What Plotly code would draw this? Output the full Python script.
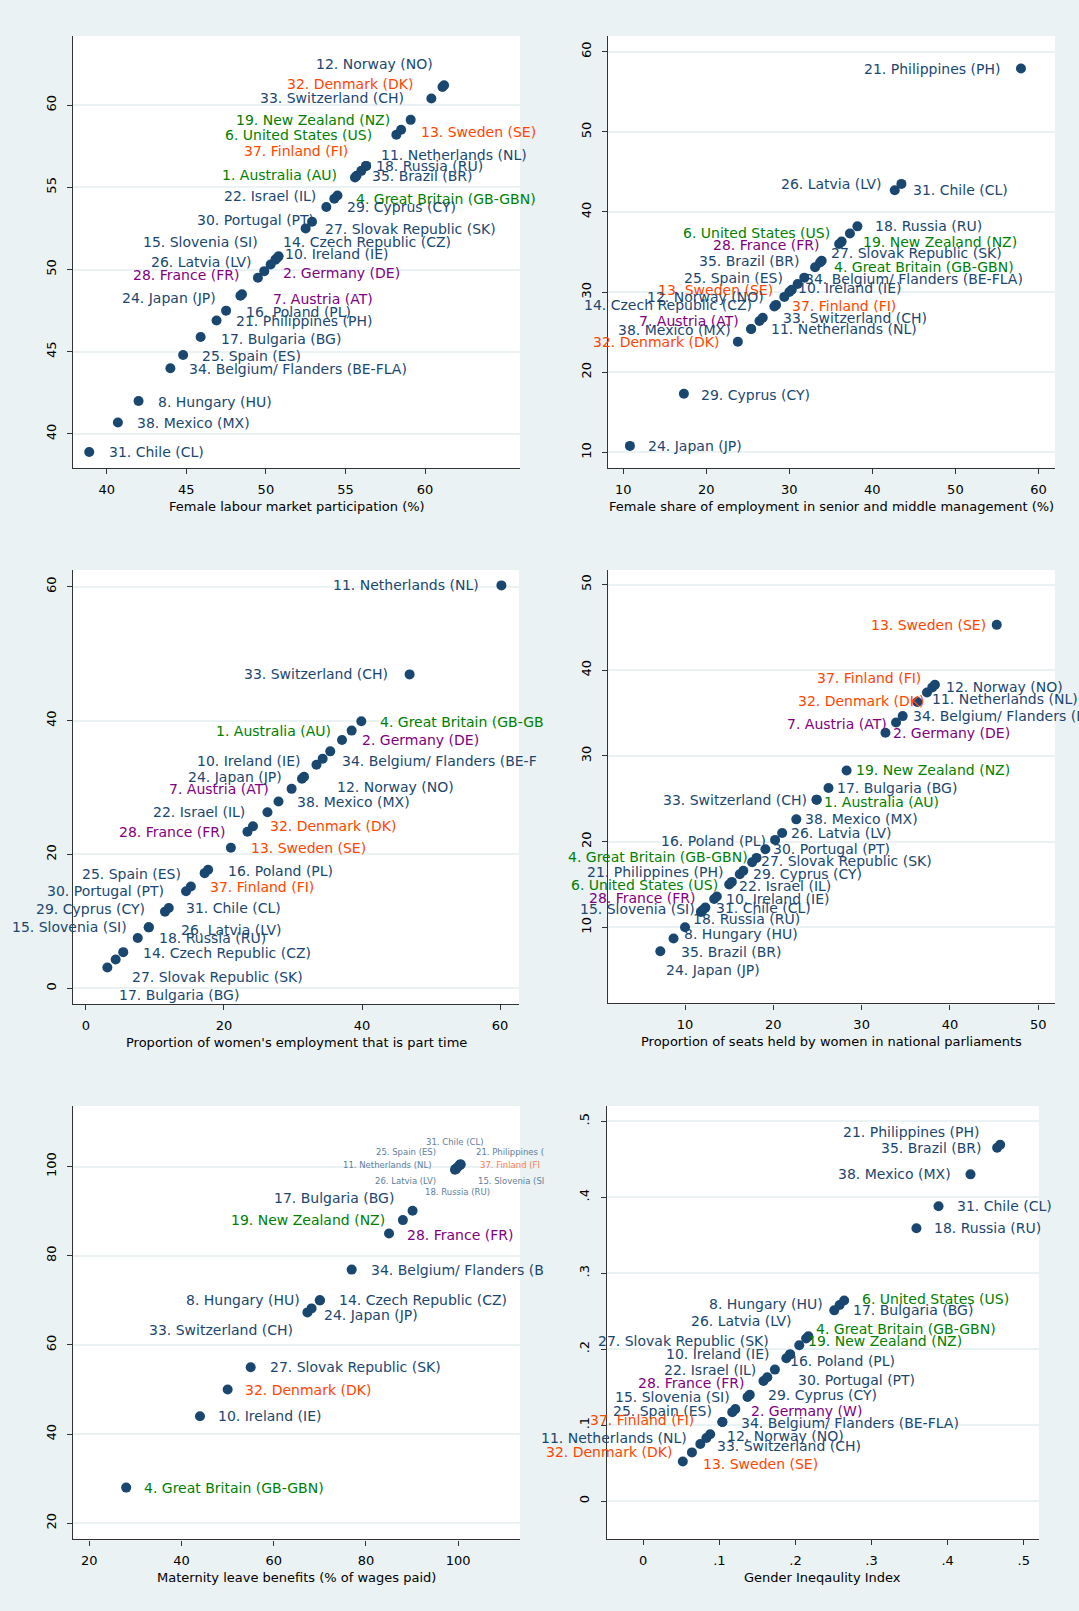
import plotly.graph_objects as go

W, H = 1079, 1611
FONT = "DejaVu Sans"
NAVY = "#1a476f"
GREEN = "#008000"
ORANGE = "#ff4500"
PURPLE = "#800080"
BG = "#eaf2f3"

# ---------------- countries ----------------
CODES = ["AU", "DE", "GB-GBN", "US", "AT", "HU", "IE", "NL", "NO", "SE", "CZ", "SI", "PL", "BG", "RU", "NZ",
         "PH", "IL", "JP", "ES", "LV", "SK", "FR", "CY", "PT", "CL", "DK", "CH", "BE-FLA", "BR", "FI", "MX"]
NUMS = [1, 2, 4, 6, 7, 8, 10, 11, 12, 13, 14, 15, 16, 17, 18, 19,
        21, 22, 24, 25, 26, 27, 28, 29, 30, 31, 32, 33, 34, 35, 37, 38]
NAMES = ["Australia", "Germany", "Great Britain", "United States", "Austria", "Hungary", "Ireland", "Netherlands",
         "Norway", "Sweden", "Czech Republic", "Slovenia", "Poland", "Bulgaria", "Russia", "New Zealand",
         "Philippines", "Israel", "Japan", "Spain", "Latvia", "Slovak Republic", "France", "Cyprus", "Portugal",
         "Chile", "Denmark", "Switzerland", "Belgium/ Flanders", "Brazil", "Finland", "Mexico"]
GREEN_SET = {"AU", "US", "NZ", "GB-GBN"}
ORANGE_SET = {"DK", "SE", "FI"}
PURPLE_SET = {"FR", "DE", "AT"}

# ---------------- values ----------------
labour = {"AU": 55.6, "DE": 49.9, "GB-GBN": 54.3, "US": 58.2, "AT": 48.5, "HU": 42.0, "IE": 50.6, "NL": 56.3,
          "NO": 61.2, "SE": 58.5, "CZ": 50.7, "SI": 50.8, "PL": 47.5, "BG": 45.9, "RU": 56.0, "NZ": 59.1,
          "PH": 46.9, "IL": 54.5, "JP": 48.4, "ES": 44.8, "LV": 50.3, "SK": 52.5, "FR": 49.5, "CY": 53.8,
          "PT": 52.9, "CL": 38.9, "DK": 61.1, "CH": 60.4, "BE-FLA": 44.0, "BR": 55.7, "FI": 56.3, "MX": 40.7}

mgmt = {"PH": 57.9, "LV": 43.5, "CL": 42.7, "RU": 38.2, "US": 37.3, "NZ": 36.3, "FR": 36.0, "SK": 33.9,
        "BR": 33.7, "GB-GBN": 33.1, "ES": 31.8, "BE-FLA": 31.0, "SE": 30.3, "IE": 30.0, "NO": 29.4, "CZ": 28.4,
        "FI": 28.2, "CH": 26.8, "AT": 26.4, "NL": 25.4, "MX": 25.4, "DK": 23.8, "CY": 17.3, "JP": 10.8}

parttime = {"NL": 60.2, "CH": 46.9, "GB-GBN": 39.9, "AU": 38.5, "DE": 37.1, "NZ": 35.4, "BE-FLA": 34.3,
            "IE": 33.4, "JP": 31.6, "NO": 31.3, "AT": 29.8, "MX": 27.9, "IL": 26.3, "DK": 24.2, "FR": 23.4,
            "SE": 21.0, "PL": 17.7, "ES": 17.2, "FI": 15.2, "PT": 14.5, "CL": 12.0, "CY": 11.45, "SI": 9.1,
            "LV": 9.1, "RU": 7.5, "CZ": 5.4, "SK": 4.3, "BG": 3.1}

parl = {"SE": 45.3, "NO": 38.3, "FI": 38.0, "NL": 37.4, "DK": 36.3, "BE-FLA": 34.65, "AT": 33.9, "DE": 32.7,
        "NZ": 28.3, "BG": 26.25, "CH": 24.9, "AU": 24.9, "MX": 22.6, "LV": 21.0, "PL": 20.2, "PT": 19.1,
        "GB-GBN": 18.1, "SK": 17.6, "PH": 16.2, "CY": 16.6, "US": 15.0, "IL": 15.3, "FR": 13.3, "IE": 13.6,
        "SI": 12.0, "CL": 12.3, "RU": 11.8, "HU": 10.0, "BR": 8.7, "JP": 7.2}

maternity = {"CL": 100.3, "ES": 99.5, "PH": 100.3, "NL": 99.3, "FI": 100.5, "LV": 99.5, "SI": 100.5, "RU": 99.8,
             "BG": 90.1, "NZ": 88.0, "FR": 85.0, "BE-FLA": 76.9, "CZ": 70.0, "HU": 70.0, "JP": 68.2, "CH": 67.3,
             "SK": 55.0, "DK": 50.0, "IE": 44.0, "GB-GBN": 28.0}

gii = {"PH": 0.469, "BR": 0.465, "MX": 0.43, "CL": 0.388, "RU": 0.359, "US": 0.264, "HU": 0.258, "BG": 0.251,
       "LV": 0.217, "GB-GBN": 0.214, "NZ": 0.205, "SK": 0.193, "IE": 0.193, "PL": 0.188, "IL": 0.173,
       "PT": 0.163, "FR": 0.158, "CY": 0.14, "SI": 0.137, "DE": 0.121, "ES": 0.117, "FI": 0.104,
       "BE-FLA": 0.104, "NO": 0.088, "NL": 0.083, "CH": 0.075, "DK": 0.064, "SE": 0.052}

# ---------------- label placement (side, xshift px, yshift px) ----------------
lab1 = {"NO": ("L", -10, 21), "DK": ("L", -29, 3), "CH": ("L", -26, 0), "NZ": ("L", -20, 0), "SE": ("R", 19, -2),
        "US": ("L", -23, 0), "FI": ("L", -17, 15), "NL": ("R", 14, 11), "RU": ("R", 14, 5), "BR": ("R", 14, 0),
        "AU": ("L", -17, 2), "IL": ("L", -20, 0), "GB-GBN": ("R", 21, 0), "CY": ("R", 20, 0), "PT": ("L", 3, 2),
        "SK": ("R", 18, -1), "SI": ("L", -20, 14), "CZ": ("R", 5, 16), "IE": ("R", 9, 6), "LV": ("L", -18, 3),
        "DE": ("R", 18, -2), "FR": ("L", -18, 3), "JP": ("L", -23, -2), "AT": ("R", 30, -5), "PL": ("R", 19, -1),
        "PH": ("R", 18, -1), "BG": ("R", 19, -2), "ES": ("R", 18, -1), "BE-FLA": ("R", 18, -1),
        "HU": ("R", 18, -1), "MX": ("R", 18, -1), "CL": ("R", 19, 0)}
lab2 = {"PH": ("L", -19, 0), "LV": ("L", -18, 0), "CL": ("R", 17, 0), "RU": ("R", 17, 0), "US": ("L", -19, 1),
        "NZ": ("R", 20, 0), "FR": ("L", -19, -1), "SK": ("R", 8, 8), "BR": ("L", -19, 1), "GB-GBN": ("R", 18, 0),
        "ES": ("L", -20, 0), "BE-FLA": ("R", 6, 5), "SE": ("L", -18, 0), "IE": ("R", 8, 4), "NO": ("L", -19, 0),
        "CZ": ("L", -23, 0), "FI": ("R", 17, 0), "CH": ("R", 19, 0), "AT": ("L", -19, 0), "NL": ("R", 19, 0),
        "MX": ("L", -19, -1), "DK": ("L", -18, 0), "CY": ("R", 16, -1), "JP": ("R", 17, 0)}
lab3 = {"NL": ("L", -21, 0), "CH": ("L", -21, 0), "GB-GBN": ("R", 18, -1), "AU": ("L", -20, 0),
        "DE": ("R", 19, 0), "BE-FLA": ("R", 18, -2), "IE": ("L", -15, 4), "JP": ("L", -21, 0),
        "NO": ("R", 34, -8), "AT": ("L", -22, 0), "MX": ("R", 17, 0), "IL": ("L", -21, 0), "DK": ("R", 16, 0),
        "FR": ("L", -21, 0), "SE": ("R", 19, 0), "PL": ("R", 19, -1), "ES": ("L", -23, -1), "FI": ("R", 18, 0),
        "PT": ("L", -21, 0), "CL": ("R", 16, 0), "CY": ("L", -19, 3), "SI": ("L", -21, 0), "LV": ("R", 31, -3),
        "RU": ("R", 20, 0), "CZ": ("R", 19, -1), "SK": ("R", 15, -18), "BG": ("R", 11, -27)}
lab4 = {"SE": ("L", -10, 0), "NO": ("R", 10, -2), "FI": ("L", -10, 9), "NL": ("R", 4, -6), "DK": ("L", 8, 1),
        "BE-FLA": ("R", 9, 0), "AT": ("L", -8, -1), "DE": ("R", 7, 0), "NZ": ("R", 8, 0), "BG": ("R", 7, 0),
        "CH": ("L", -9, 0), "AU": ("R", 6, -2), "MX": ("R", 8, 0), "LV": ("R", 8, 0), "PL": ("L", -8, -1),
        "PT": ("R", 7, 0), "GB-GBN": ("L", -8, 1), "SK": ("R", 8, 1), "PH": ("L", -15, 2), "CY": ("R", 9, -3),
        "US": ("L", -10, -1), "IL": ("R", 6, -4), "FR": ("L", -18, 1), "IE": ("R", 8, -3), "SI": ("L", -7, 1),
        "CL": ("R", 10, 0), "RU": ("R", -9, -7), "HU": ("R", -2, -7), "BR": ("R", 6, -14), "JP": ("R", 5, -19)}
lab5 = {"CL": ("C", -5, 23), "ES": ("L", -19, 17), "PH": ("R", 15, 13), "NL": ("L", -23, 5), "FI": ("R", 18, -1),
        "LV": ("L", -19, -12), "SI": ("R", 16, -17), "RU": ("C", 0, -24),
        "BG": ("L", -18, 13), "NZ": ("L", -17, 0), "FR": ("R", 17, -2), "BE-FLA": ("R", 18, 0),
        "CZ": ("R", 18, 0), "HU": ("L", -19, 0), "JP": ("R", 11, -7), "CH": ("L", -13, -18),
        "SK": ("R", 18, 0), "DK": ("R", 16, 0), "IE": ("R", 17, 0), "GB-GBN": ("R", 17, 0)}
lab6 = {"PH": ("L", -19, 13), "BR": ("L", -14, 0), "MX": ("L", -19, 0), "CL": ("R", 17, 0), "RU": ("R", 17, 0),
        "US": ("R", 17, 1), "HU": ("L", -16, 1), "BG": ("R", 18, 0), "LV": ("L", -15, 15), "GB-GBN": ("R", 9, 9),
        "NZ": ("R", 8, 4), "SK": ("L", -20, 13), "IE": ("L", -20, 0), "PL": ("R", 3, -3), "IL": ("L", -18, 0),
        "PT": ("R", 30, -3), "FR": ("L", -18, -2), "CY": ("R", 17, 0), "SI": ("L", -17, 0), "DE": ("R", 15, -2),
        "ES": ("L", -19, 1), "FI": ("L", -27, 2), "BE-FLA": ("R", 18, -1), "NO": ("R", 16, -2),
        "NL": ("L", -18, 0), "CH": ("R", 16, -2), "DK": ("L", -19, 0), "SE": ("R", 19, -2)}

# text as it is visible (cut at the edge of its sub-graph) or spelled in the original
text3 = {"GB-GBN": "4. Great Britain (GB-GB", "BE-FLA": "34. Belgium/ Flanders (BE-F"}
text5 = {"PH": "21. Philippines (", "FI": "37. Finland (FI", "SI": "15. Slovenia (SI",
         "BE-FLA": "34. Belgium/ Flanders (B"}
text6 = {"DE": "2. Germany (W)"}
small5 = {"CL", "ES", "PH", "NL", "FI", "LV", "SI", "RU"}

panels = [
    dict(vals=labour, labs=lab1, text={}, small=set(), box=(73, 520, 36, 468),
         xr=[37.88, 65.97], yr=[37.93, 64.2], ticks=[40, 45, 50, 55, 60], tt=None,
         title="Female labour market participation (%)"),
    dict(vals=mgmt, labs=lab2, text={}, small=set(), box=(608, 1055, 36, 467.7),
         xr=[8.16, 62.0], yr=[8.08, 61.96], ticks=[10, 20, 30, 40, 50, 60], tt=None,
         title="Female share of employment in senior and middle management (%)"),
    dict(vals=parttime, labs=lab3, text=text3, small=set(), box=(73, 519, 570, 1004),
         xr=[-1.88, 62.75], yr=[-2.35, 62.5], ticks=[0, 20, 40, 60], tt=None,
         title="Proportion of women's employment that is part time"),
    dict(vals=parl, labs=lab4, text={}, small=set(), box=(608.3, 1055, 570, 1003.3),
         xr=[1.31, 51.9], yr=[1.13, 51.7], ticks=[10, 20, 30, 40, 50], tt=None,
         title="Proportion of seats held by women in national parliaments"),
    dict(vals=maternity, labs=lab5, text=text5, small=small5, box=(73.3, 520, 1106, 1539.3),
         xr=[16.53, 113.4], yr=[16.4, 113.6], ticks=[20, 40, 60, 80, 100], tt=None,
         title="Maternity leave benefits (% of wages paid)"),
    dict(vals=gii, labs=lab6, text=text6, small=set(), box=(606.7, 1039, 1106, 1539),
         xr=[-0.048, 0.52], yr=[-0.05, 0.52], ticks=[0, 0.1, 0.2, 0.3, 0.4, 0.5],
         tt=["0", ".1", ".2", ".3", ".4", ".5"], title="Gender Ineqaulity Index"),
]

INFO = {c: (n, nm) for c, n, nm in zip(CODES, NUMS, NAMES)}


def colour(code, small=False):
    if code in GREEN_SET:
        return GREEN
    if code in ORANGE_SET:
        return "#ff7a50" if small else ORANGE
    if code in PURPLE_SET:
        return PURPLE
    return "#5e7e9c" if small else NAVY


fig = go.Figure()
annotations = []
layout = {}
for i, p in enumerate(panels, start=1):
    sfx = "" if i == 1 else str(i)
    xa, ya = "x" + sfx, "y" + sfx
    l, r, t, b = p["box"]
    codes = [c for c in CODES if c in p["vals"]]
    vals = [p["vals"][c] for c in codes]
    fig.add_trace(go.Scatter(x=vals, y=vals, mode="markers", xaxis=xa, yaxis=ya,
                             marker=dict(size=10, color=NAVY, line=dict(width=0)),
                             hoverinfo="skip", showlegend=False))
    common = dict(showline=True, linecolor="#333333", linewidth=1.4, ticks="outside", ticklen=5,
                  tickcolor="#333333", tickwidth=1.2, zeroline=False, tickvals=p["ticks"],
                  tickfont=dict(family=FONT, size=13, color="black"), fixedrange=True)
    if p["tt"]:
        common["ticktext"] = p["tt"]
    layout["xaxis" + sfx] = dict(common, domain=[l / W, r / W], range=p["xr"], anchor=ya,
                                 showgrid=False, ticklabelstandoff=4)
    layout["yaxis" + sfx] = dict(common, domain=[1 - b / H, 1 - t / H], range=p["yr"], anchor=xa,
                                 showgrid=True, gridcolor=BG, gridwidth=1.5, tickangle=-90,
                                 ticklabelstandoff=6)
    for c, (side, dx, dy) in p["labs"].items():
        v = p["vals"][c]
        n, nm = INFO[c]
        txt = p["text"].get(c, f"{n}. {nm} ({c})")
        sm = c in p["small"]
        annotations.append(dict(
            x=v, y=v, xref=xa, yref=ya, text=txt, showarrow=False,
            xanchor={"L": "right", "R": "left", "C": "center"}[side], yanchor="middle",
            xshift=dx, yshift=dy, borderpad=0,
            font=dict(family=FONT, size=8.5 if sm else 14, color=colour(c, sm))))
    annotations.append(dict(
        x=0.5, y=0, xref=xa + " domain", yref=ya + " domain", text=p["title"], showarrow=False,
        xanchor="center", yanchor="middle", yshift=-38.5,
        font=dict(family=FONT, size=13, color="black")))

fig.update_layout(width=W, height=H, margin=dict(l=0, r=0, t=0, b=0), paper_bgcolor=BG,
                  plot_bgcolor="white", annotations=annotations, showlegend=False, **layout)

fig.write_html("out.html", config={"displayModeBar": False},
               post_script="document.body.style.margin='0';")
